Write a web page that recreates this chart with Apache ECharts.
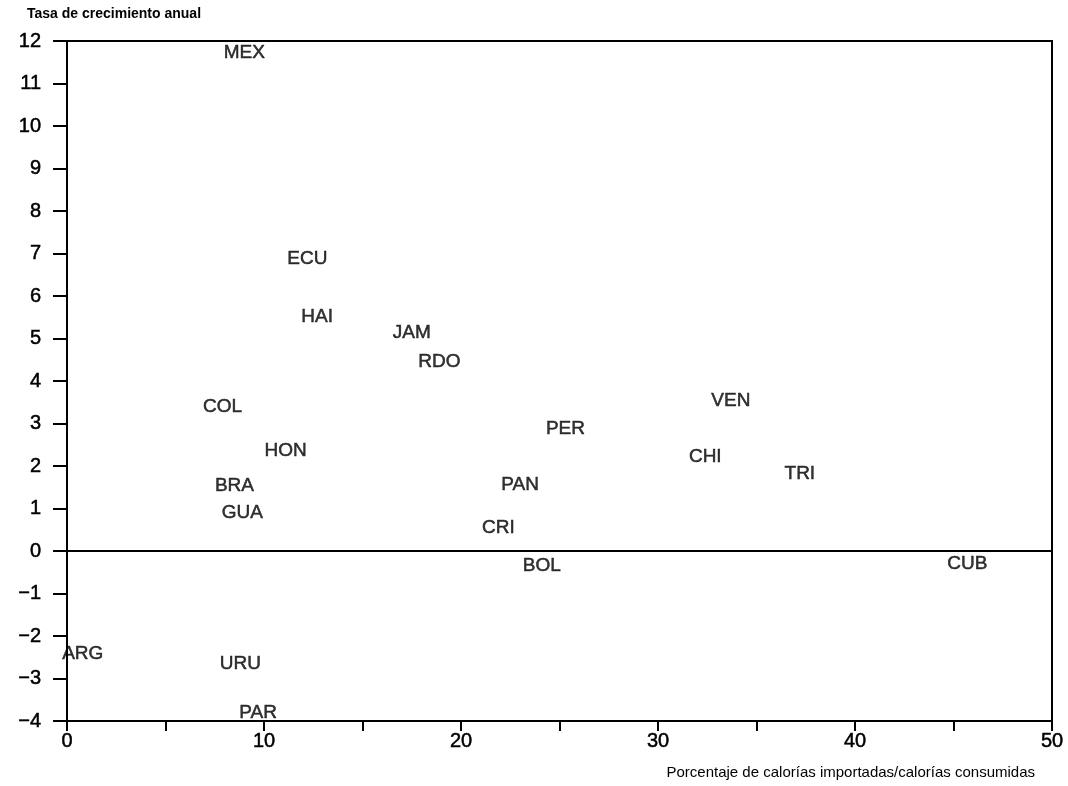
<!DOCTYPE html>
<html>
<head>
<meta charset="utf-8">
<script src="https://cdn.jsdelivr.net/npm/echarts@6/dist/echarts.min.js"></script>
<style>html,body{margin:0;padding:0;background:#fff;}#c{width:1068px;height:786px;}</style>
</head>
<body>
<div id="c"></div>
<script>
const countries = ['MEX','ECU','HAI','JAM','RDO','COL','HON','BRA','GUA','PER','VEN','CHI','TRI','PAN','CRI','BOL','CUB','ARG','URU','PAR'];
const importPct = [9.0, 12.2, 12.7, 17.5, 18.9, 7.9, 11.1, 8.5, 8.9, 25.3, 33.7, 32.4, 37.2, 23.0, 21.9, 24.1, 45.7, 0.8, 8.8, 9.7];
const growthRate = [11.72, 6.87, 5.51, 5.13, 4.45, 3.39, 2.35, 1.53, 0.89, 2.87, 3.53, 2.21, 1.81, 1.55, 0.54, -0.35, -0.31, -2.42, -2.66, -3.81];
const xTickLabels = ['0','10','20','30','40','50'];
const yAxisTitle = 'Tasa de crecimiento anual';
const xAxisTitle = 'Porcentaje de calorías importadas/calorías consumidas';

const points = countries.map((c, i) => [importPct[i], growthRate[i], c]);
const font = '"Liberation Sans", Arial, sans-serif';

const chart = echarts.init(document.getElementById('c'));
chart.setOption({
  animation: false,
  backgroundColor: '#fff',
  title: [
    {text: yAxisTitle, left: 22, top: 2, textStyle: {fontSize: 14, fontWeight: 'bold', color: '#000', fontFamily: font}},
    {text: xAxisTitle, right: 28, bottom: 1, textStyle: {fontSize: 15, fontWeight: 'normal', color: '#000', fontFamily: font}}
  ],
  grid: {left: 67, right: 16, top: 41, bottom: 65, show: true, borderColor: '#000', borderWidth: 2, backgroundColor: 'transparent'},
  xAxis: {
    type: 'value', min: 0, max: 50, interval: 5,
    axisLine: {show: true, onZero: false, lineStyle: {color: '#000', width: 2}},
    axisTick: {show: true, length: 10, lineStyle: {color: '#000', width: 2}},
    splitLine: {show: false},
    axisLabel: {
      margin: 10, fontSize: 20, color: '#000', fontFamily: font,
      textBorderColor: '#000', textBorderWidth: 0.5,
      formatter: v => { const s = String(v); return xTickLabels.includes(s) ? s : ''; }
    }
  },
  yAxis: {
    type: 'value', min: -4, max: 12, interval: 1,
    axisLine: {show: true, onZero: false, lineStyle: {color: '#000', width: 2}},
    axisTick: {show: true, length: 14, lineStyle: {color: '#000', width: 2}},
    splitLine: {show: false},
    axisLabel: {margin: 26, fontSize: 20, color: '#000', fontFamily: font,
      textBorderColor: '#000', textBorderWidth: 0.5,
      formatter: v => v < 0 ? '\u2212' + Math.abs(v) : String(v)}
  },
  series: [{
    type: 'scatter',
    data: points,
    symbolSize: 1,
    itemStyle: {color: 'rgba(0,0,0,0)'},
    label: {
      show: true, position: 'inside', formatter: p => p.data[2],
      fontSize: 19, color: '#000', fontFamily: font,
      textBorderColor: '#000', textBorderWidth: 0.5
    },
    markLine: {
      silent: true, symbol: 'none',
      label: {show: false},
      lineStyle: {color: '#000', width: 2, type: 'solid'},
      data: [{yAxis: 0}]
    }
  }]
});
</script>
</body>
</html>
